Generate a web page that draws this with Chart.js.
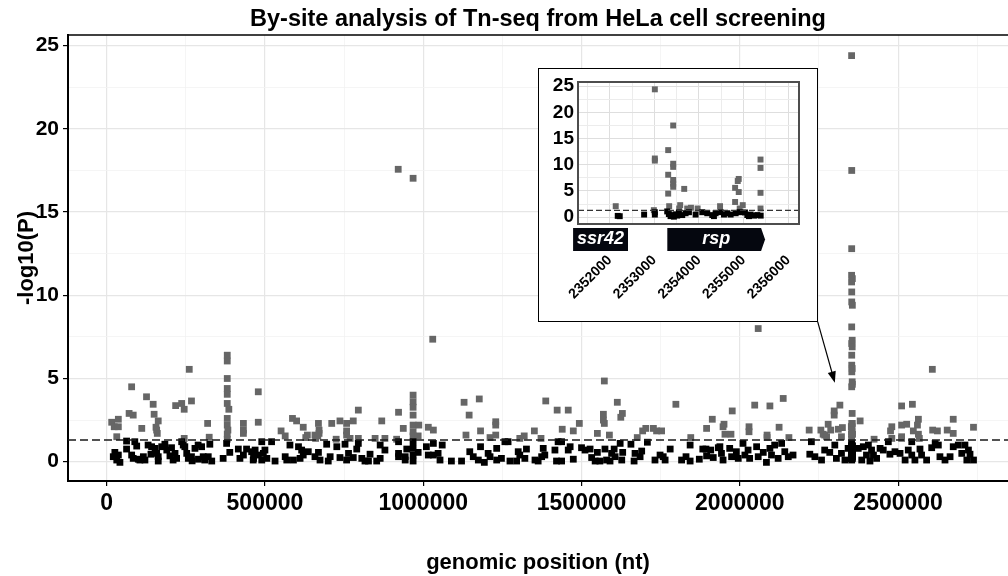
<!DOCTYPE html>
<html>
<head>
<meta charset="utf-8">
<script src="https://cdn.jsdelivr.net/npm/chart.js@4.4.1/dist/chart.umd.min.js"></script>
<style>
  html, body { margin: 0; padding: 0; background: #fff; }
  #wrap { position: relative; width: 1008px; height: 576px; overflow: hidden; }
  #mainCanvas { position: absolute; left: 0; top: 0; }
  #inset { position: absolute; background: #fff; border: 1px solid #000; box-sizing: border-box; }
  #inset canvas { display: block; }
</style>
</head>
<body>
<div id="wrap">
  <canvas id="mainCanvas" width="1008" height="576"></canvas>
  <div id="inset"><canvas id="insetCanvas"></canvas></div>
</div>
<script>
// Genome-wide insertion sites: position (nt) and -log10(P)
const siteX = [
  921000, 968000, 1030000, 381000, 381000, 261000, 2058000, 2608000,
  79000, 126000, 147000, 71000, 84000, 16000, 37000, 24000, 37000, 32000, 150000, 163000,
  156000, 158000, 160000, 111000, 218000, 237000, 245000, 268000, 245000, 319000, 324000,
  381000, 381000, 381000, 381000, 386000, 381000, 381000, 383000, 381000, 381000,
  432000, 432000, 432000, 479000, 479000, 551000, 564000, 587000, 600000, 621000, 634000,
  629000, 658000, 660000, 669000, 671000, 671000, 667000, 711000, 737000, 758000, 758000,
  758000, 779000, 795000, 795000, 725000, 769000, 848000, 869000, 879000, 922000, 937000,
  916000, 968000, 968000, 968000, 968000, 968000, 986000, 968000, 968000, 984000, 1016000,
  1032000, 1129000, 1145000, 1177000, 1135000, 1181000, 1211000, 1229000, 1229000, 1229000,
  1305000, 1319000, 1351000, 1372000, 1387000, 1423000, 1439000, 1572000, 1458000, 1474000,
  1493000, 1613000, 1569000, 1629000, 1624000, 1569000, 1572000, 1550000, 1588000, 1676000,
  1693000, 1703000, 1727000, 1737000, 1753000, 1798000, 1845000, 1895000, 1913000, 1976000,
  1950000, 1947000, 1953000, 1972000, 2029000, 2029000, 2047000, 2095000, 2137000, 2086000,
  2086000, 2124000, 2155000, 2219000, 2256000, 2263000, 2268000, 2279000, 2287000, 2274000,
  2298000, 2298000, 2316000, 2311000, 2324000, 2321000, 2380000, 2511000, 2545000, 2564000,
  2561000, 2511000, 2527000, 2480000, 2476000, 2548000, 2564000, 2511000, 2511000, 2567000,
  2609000, 2624000, 2655000, 2674000, 2674000, 2738000, 2424000, 2480000,
  63000, 89000, 95000, 63000, 26000, 37000, 21000, 32000, 42000, 79000, 84000, 105000,
  116000, 121000, 131000, 142000, 153000, 158000, 163000, 163000, 174000, 184000, 190000,
  205000, 216000, 221000, 210000, 237000, 242000, 247000, 253000, 258000, 268000, 279000,
  289000, 300000, 305000, 310000, 321000, 326000, 332000, 368000, 379000, 389000, 416000,
  421000, 432000, 442000, 458000, 463000, 100000, 270000, 290000, 140000, 200000,
  490000, 521000, 469000, 479000, 495000, 500000, 464000, 490000, 506000, 532000, 564000,
  569000, 579000, 590000, 606000, 616000, 621000, 611000, 637000, 658000, 669000, 674000,
  695000, 706000, 700000, 727000, 737000, 753000, 764000, 758000, 779000, 790000, 795000,
  806000, 816000, 827000, 832000, 853000, 864000, 864000, 879000, 922000, 922000, 922000,
  943000, 948000, 943000,
  968000, 968000, 968000, 968000, 984000, 1010000, 1016000, 1032000, 1032000, 1047000,
  1053000, 1060000, 1089000, 1121000, 1147000, 1158000, 1174000, 1181000, 1193000, 1205000,
  1211000, 1232000, 1232000, 1247000, 1258000, 1268000, 1274000, 1300000, 1305000, 1295000,
  1321000, 1326000, 1353000, 1363000, 1374000, 1379000, 1384000, 1416000, 1426000, 1421000,
  1437000,
  1437000, 1464000, 1458000, 1474000, 1500000, 1511000, 1527000, 1532000, 1543000, 1550000,
  1558000, 1574000, 1579000, 1590000, 1595000, 1603000, 1606000, 1622000, 1630000, 1627000,
  1656000, 1669000, 1666000, 1685000, 1690000, 1708000, 1732000, 1748000, 1758000, 1764000,
  1780000, 1816000, 1830000, 1843000, 1843000, 1872000, 1883000, 1893000, 1895000, 1908000,
  1916000, 1932000,
  1937000, 1942000, 1947000, 1968000, 1974000, 1989000, 1995000, 2010000, 2016000, 2026000,
  2031000, 2053000, 2058000, 2074000, 2084000, 2095000, 2100000, 2110000, 2121000, 2132000,
  2142000, 2153000, 2168000, 2221000, 2226000, 2237000, 2258000, 2268000, 2284000, 2300000,
  2305000, 2321000, 2332000, 2342000, 2390000, 2400000, 2416000, 2411000,
  2374000, 2385000, 2406000, 2422000, 2432000, 2443000, 2453000, 2469000, 2474000, 2490000,
  2506000, 2522000, 2532000, 2543000, 2543000, 2553000, 2569000, 2574000, 2590000, 2606000,
  2617000, 2627000, 2632000, 2648000, 2664000, 2674000, 2690000, 2701000, 2711000, 2717000,
  2727000, 2738000, 2722000
];
const siteY = [
  17.57, 17.03, 7.36, 6.4, 6.05, 5.55, 8.0, 5.55,
  4.5, 3.9, 3.45, 2.9, 2.8, 2.37, 2.55, 2.1, 2.1, 1.5, 2.85, 2.45,
  2.07, 1.9, 1.7, 2.0, 3.37, 3.5, 3.15, 3.65, 1.4, 2.3, 1.47,
  5.0, 4.4, 4.05, 3.5, 3.15, 2.6, 2.2, 1.9, 1.66, 1.35,
  2.3, 1.9, 1.7, 4.2, 2.37, 1.85, 1.55, 2.6, 2.45, 2.07, 1.6,
  1.45, 1.6, 1.4, 2.3, 1.9, 1.7, 1.55, 2.3, 2.45, 2.3, 1.85,
  1.6, 2.45, 3.1, 1.4, 1.35, 1.4, 1.4, 2.45, 1.4, 2.97, 2.0,
  1.35, 4.0, 3.6, 3.27, 2.8, 2.2, 2.2, 1.8, 1.55, 1.55, 2.07,
  1.9, 3.57, 2.8, 3.77, 1.6, 1.85, 1.45, 2.4, 2.2, 1.6,
  1.4, 1.55, 1.85, 1.4, 3.65, 3.1, 1.95, 4.85, 3.1, 1.85,
  2.3, 3.57, 2.85, 2.9, 2.67, 2.5, 2.3, 1.7, 1.6, 1.45,
  1.85, 2.0, 2.0, 1.85, 1.85, 3.45, 1.45, 2.0, 2.55, 3.05,
  2.25, 2.1, 1.65, 1.65, 2.1, 1.8, 3.4, 3.35, 3.8, 1.6,
  1.45, 2.07, 1.45, 1.9, 1.9, 1.65, 1.6, 2.25, 1.9, 1.5,
  3.05, 2.8, 3.4, 1.95, 2.05, 1.5, 2.45, 3.35, 3.45, 2.55,
  2.2, 2.2, 2.25, 2.1, 1.85, 1.85, 1.65, 1.5, 1.4, 1.4,
  1.9, 1.85, 1.9, 2.55, 1.7, 2.07, 1.35, 1.4,
  1.24, 1.2, 0.94, 0.76, 0.56, 0.4, 0.3, 0.1, -0.04, 0.4, 0.2, 0.1,
  0.3, 0.1, 1.0, 0.9, 0.8, 0.5, 0.3, 0.04, 0.9, 1.05, 0.7,
  0.84, 0.5, 0.2, 0.1, 1.2, 1.0, 0.9, 0.5, 0.2, 0.3, 0.8,
  1.0, 0.9, 0.3, 0.1, 0.3, 1.05, 0.04, 0.2, 1.1, 0.56, 0.76,
  0.2, 0.4, 0.76, 0.6, 0.1, 0.15, 0.05, 0.15, 0.45, 0.35,
  1.2, 1.2, 0.7, 0.4, 0.5, 0.7, 0.2, 0.1, 0.2, 0.04, 0.3,
  0.1, 1.0, 0.1, 0.9, 0.7, 0.4, 0.2, 0.6, 0.3, 0.56, 0.1,
  1.05, 0.3, 0.04, 0.9, 0.25, 1.05, 0.5, 0.1, 0.25, 0.76, 1.1,
  0.2, 0.04, 0.04, 0.45, 0.04, 1.0, 0.2, 0.7, 1.2, 0.5, 0.3,
  0.3, 0.76, 0.1,
  1.2, 0.8, 0.4, 0.04, 0.56, 0.9, 0.4, 1.1, 0.4, 0.5,
  0.1, 1.0, 0.04, 0.04, 0.6, 0.3, 0.1, 0.9, -0.04, 0.5,
  0.3, 0.8, 0.1, 0.2, 1.2, 1.2, 0.04, 0.6, 0.4, 0.04,
  0.2, 0.76, 0.1, 0.04, 0.3, 0.8, 0.4, 0.7, 1.2, 0.04,
  0.04,
  1.2, 0.9, 0.7, 0.15, 0.84, 0.7, 0.76, 0.25, 0.04, 0.56,
  0.04, 0.76, 0.1, 0.04, 0.5, 0.76, 0.3, 1.1, 0.56, 0.1,
  1.05, 0.5, 0.04, 0.3, 0.64, 1.17, 0.1, 0.4, 0.3, 0.1,
  0.76, 0.1, 0.3, 1.0, 0.04, 0.15, 0.76, 0.76, 0.35, 0.7,
  0.25, 0.84,
  0.9, 0.5, 0.1, 0.8, 0.3, 0.6, 0.2, 1.1, 0.4, 0.7,
  0.2, 0.9, 0.3, 0.56, -0.04, 0.8, 0.4, 1.0, 0.2, 1.1,
  0.6, 0.3, 0.4, 0.45, 1.2, 0.3, 0.1, 0.7, 0.56, 1.0,
  0.2, 0.5, 0.1, 0.8, 0.9, 0.4, 0.7, 0.04,
  0.8, 0.1, 1.0, 0.4, 0.2, 0.8, 0.7, 1.2, 0.45, 0.6,
  0.5, 0.1, 0.7, 1.2, 0.4, 0.1, 0.76, 0.4, 0.1, 0.84,
  1.1, 1.0, 0.3, 0.1, 0.3, 0.9, 1.0, 0.5, 1.0, 0.1,
  0.45, 0.1, 0.7
];

// Sites in the ssr42 / rsp locus (shown in both panels)
const rspX = [
  2352135, 2352989, 2353011, 2353011, 2353011, 2353310, 2353310, 2353310, 2353332, 2353422,
  2353422, 2353422, 2353422, 2353422, 2353422, 2353557, 2353579, 2353669, 2353736, 2353820,
  2353969, 2354472, 2354809, 2354809, 2354868, 2354890, 2354890, 2354912, 2354980, 2355378,
  2355378, 2355378, 2355378,
  2352180, 2352225, 2352771, 2353011, 2353011, 2353288, 2353325, 2353363, 2353400, 2353438,
  2353475, 2353512, 2353550, 2353625, 2353700, 2353775, 2353924, 2354073, 2354185, 2354297,
  2354335, 2354372, 2354484, 2354559, 2354634, 2354709, 2354821, 2354911, 2355030, 2355082,
  2355120, 2355157, 2355232, 2355307, 2355382
];
const rspY = [
  2.1, 1.34, 24.4, 11.2, 10.8, 12.8, 8.1, 4.5, 2.1, 17.5,
  10.2, 9.6, 7.1, 6.4, 5.8, 1.66, 2.3, 5.4, 1.66, 1.8,
  1.66, 2.1, 5.6, 2.9, 6.9, 7.3, 4.8, 1.66, 2.3, 11.0,
  9.4, 4.65, 1.66,
  0.25, 0.19, 0.5, 0.95, 0.5, 1.1, 0.6, 0.2, 0.4, 0.1,
  0.55, 0.3, 0.9, 0.4, 0.75, 0.95, 0.5, 0.95, 0.75, 0.4,
  0.2, 0.75, 0.95, 0.5, 0.75, 0.5, 0.75, 0.95, 0.9, 0.4,
  0.2, 0.5, 0.3, 0.4, 0.3
];

// Gene track of the zoomed locus
const geneNames = ['ssr42', 'rsp'];
const geneStart = [2351180, 2353290];
const geneEnd = [2352410, 2355480];
const geneStrand = [0, 1];

// Axis ticks
const mainXTicks = [0, 250000, 500000, 750000, 1000000, 1250000, 1500000, 1750000, 2000000, 2250000, 2500000, 2750000];
const mainXLabels = [0, 500000, 1000000, 1500000, 2000000, 2500000];
const mainYTicks = [0, 2.5, 5, 7.5, 10, 12.5, 15, 17.5, 20, 22.5, 25];
const mainYLabels = [0, 5, 10, 15, 20, 25];
const insetXTicks = [2351500, 2352000, 2352500, 2353000, 2353500, 2354000, 2354500, 2355000, 2355500, 2356000];
const insetXLabels = [2352000, 2353000, 2354000, 2355000, 2356000];

// Where the zoom panel sits on the genome-wide plot (data units), and its pointer
const insetBox = { xmin: 1363000, xmax: 2246000, ymin: 8.4, ymax: 23.66 };
const pointerFrom = { x: 2246000, y: 8.4 };
const pointerTo = { x: 2300000, y: 4.75 };

const SIG_LINE = -Math.log10(0.05);
const FONT = "'Liberation Sans', Arial, Helvetica, sans-serif";
const GREY = '#666666';
const BLACK = '#000000';

Chart.defaults.font.family = FONT;
Chart.defaults.color = '#000';

function toPoints(xs, ys) {
    return xs.map((x, i) => ({ x: x, y: ys[i] }));
}
const pointColor = (ctx) => (ctx.raw && ctx.raw.y > SIG_LINE) ? GREY : BLACK;

function tickSetter(values) {
    return (scale) => { scale.ticks = values.map(v => ({ value: v })); };
}
function labelIf(labels) {
    return (value) => labels.includes(value) ? String(value) : '';
}
// fixed axis size, no extra room for overhanging labels
function fixSize(prop, size) {
    return (s) => {
        s[prop] = size;
        s.paddingLeft = 0; s.paddingRight = 0;
        s.paddingTop = 0; s.paddingBottom = 0;
    };
}

// dashed significance line, top border, title and the arrow to the zoomed locus
const mainDecor = {
    id: 'mainDecor',
    afterDatasetsDraw(chart) {
        const { ctx, chartArea, scales } = chart;
        const yPos = scales.y.getPixelForValue(SIG_LINE);
        ctx.save();
        ctx.beginPath();
        ctx.setLineDash([8, 4]);
        ctx.strokeStyle = '#1a1a1a';
        ctx.lineWidth = 1.4;
        ctx.moveTo(chartArea.left, yPos);
        ctx.lineTo(chartArea.right, yPos);
        ctx.stroke();
        ctx.setLineDash([]);

        ctx.beginPath();
        ctx.strokeStyle = '#000';
        ctx.lineWidth = 1.5;
        ctx.moveTo(chartArea.left, chartArea.top);
        ctx.lineTo(chartArea.right, chartArea.top);
        ctx.stroke();

        // arrow
        const x0 = scales.x.getPixelForValue(pointerFrom.x), y0 = scales.y.getPixelForValue(pointerFrom.y);
        const x1 = scales.x.getPixelForValue(pointerTo.x), y1 = scales.y.getPixelForValue(pointerTo.y);
        const ang = Math.atan2(y1 - y0, x1 - x0);
        ctx.beginPath();
        ctx.lineWidth = 1.2;
        ctx.moveTo(x0, y0);
        ctx.lineTo(x1 - 8 * Math.cos(ang), y1 - 8 * Math.sin(ang));
        ctx.stroke();
        ctx.beginPath();
        ctx.moveTo(x1, y1);
        ctx.lineTo(x1 - 12 * Math.cos(ang - 0.35), y1 - 12 * Math.sin(ang - 0.35));
        ctx.lineTo(x1 - 12 * Math.cos(ang + 0.35), y1 - 12 * Math.sin(ang + 0.35));
        ctx.closePath();
        ctx.fillStyle = '#000';
        ctx.fill();

        ctx.font = 'bold 23.5px ' + FONT;
        ctx.textAlign = 'center';
        ctx.textBaseline = 'middle';
        ctx.fillText('By-site analysis of Tn-seq from HeLa cell screening', (chartArea.left + chartArea.right) / 2, 20);
        ctx.restore();
    }
};

const mainChart = new Chart(document.getElementById('mainCanvas'), {
    type: 'scatter',
    data: {
        datasets: [{
            data: toPoints(siteX.concat(rspX), siteY.concat(rspY)),
            pointStyle: 'rect',
            pointRadius: 4.8,
            pointBorderWidth: 0,
            pointBackgroundColor: pointColor
        }]
    },
    options: {
        responsive: false,
        animation: false,
        events: [],
        layout: { autoPadding: false, padding: { top: 35, right: 0, left: 0, bottom: 0 } },
        plugins: { legend: { display: false }, tooltip: { enabled: false } },
        scales: {
            x: {
                type: 'linear',
                min: -122000,
                max: 2847000,
                afterBuildTicks: tickSetter(mainXTicks),
                afterFit: fixSize('height', 95),
                ticks: {
                    callback: labelIf(mainXLabels),
                    autoSkip: false, maxRotation: 0, minRotation: 0,
                    padding: 4,
                    font: { size: 23, weight: 'bold' }, color: '#000'
                },
                grid: {
                    color: (c) => mainXLabels.includes(c.tick.value) ? '#e6e6e6' : '#f3f3f3',
                    lineWidth: (c) => mainXLabels.includes(c.tick.value) ? 1.2 : 0.8,
                    tickColor: (c) => mainXLabels.includes(c.tick.value) ? '#000' : 'rgba(0,0,0,0)',
                    tickLength: 5
                },
                border: { display: true, color: '#000', width: 2 },
                title: {
                    display: true, text: 'genomic position (nt)',
                    font: { size: 22, weight: 'bold' }, color: '#000',
                    padding: { top: 0, bottom: 0 }
                }
            },
            y: {
                type: 'linear',
                min: -1.16,
                max: 25.64,
                afterBuildTicks: tickSetter(mainYTicks),
                afterFit: fixSize('width', 68),
                ticks: {
                    callback: labelIf(mainYLabels),
                    autoSkip: false, padding: 4,
                    font: { size: 21, weight: 'bold' }, color: '#000'
                },
                grid: {
                    color: (c) => mainYLabels.includes(c.tick.value) ? '#e6e6e6' : '#f3f3f3',
                    lineWidth: (c) => mainYLabels.includes(c.tick.value) ? 1.2 : 0.8,
                    tickColor: (c) => mainYLabels.includes(c.tick.value) ? '#000' : 'rgba(0,0,0,0)',
                    tickLength: 5
                },
                border: { display: true, color: '#000', width: 2 },
                title: {
                    display: true, text: '-log10(P)',
                    font: { size: 22, weight: 'bold' }, color: '#000',
                    padding: { top: 14, bottom: 0 }
                }
            }
        }
    },
    plugins: [mainDecor]
});

// place the zoom panel from its data extent on the main plot
const mx = mainChart.scales.x, my = mainChart.scales.y;
const boxLeft = Math.round(mx.getPixelForValue(insetBox.xmin));
const boxRight = Math.round(mx.getPixelForValue(insetBox.xmax));
const boxTop = Math.round(my.getPixelForValue(insetBox.ymax));
const boxBottom = Math.round(my.getPixelForValue(insetBox.ymin));
const insetDiv = document.getElementById('inset');
insetDiv.style.left = boxLeft + 'px';
insetDiv.style.top = boxTop + 'px';
insetDiv.style.width = (boxRight - boxLeft) + 'px';
insetDiv.style.height = (boxBottom - boxTop) + 'px';
const insetCanvas = document.getElementById('insetCanvas');
insetCanvas.width = boxRight - boxLeft - 2;
insetCanvas.height = boxBottom - boxTop - 2;

// panel frame, significance line and gene arrows under the zoomed plot
const insetDecor = {
    id: 'insetDecor',
    afterDatasetsDraw(chart) {
        const { ctx, chartArea, scales } = chart;
        const yPos = scales.y.getPixelForValue(SIG_LINE);
        ctx.save();
        ctx.beginPath();
        ctx.setLineDash([6, 3]);
        ctx.strokeStyle = '#333';
        ctx.lineWidth = 1.2;
        ctx.moveTo(chartArea.left, yPos);
        ctx.lineTo(chartArea.right, yPos);
        ctx.stroke();
        ctx.setLineDash([]);
        ctx.strokeStyle = '#4d4d4d';
        ctx.lineWidth = 2;
        ctx.strokeRect(chartArea.left, chartArea.top, chartArea.right - chartArea.left, chartArea.bottom - chartArea.top);
        ctx.restore();
    },
    afterDraw(chart) {
        const { ctx, chartArea, scales } = chart;
        const top = chartArea.bottom + 4;
        const h = 23;
        ctx.save();
        geneNames.forEach((name, i) => {
            const x0 = scales.x.getPixelForValue(geneStart[i]);
            const x1 = scales.x.getPixelForValue(geneEnd[i]);
            const tip = geneStrand[i] > 0 ? 4 : 0;
            ctx.beginPath();
            ctx.moveTo(x0, top);
            ctx.lineTo(x1 - tip, top);
            ctx.lineTo(x1, top + h / 2);
            ctx.lineTo(x1 - tip, top + h);
            ctx.lineTo(x0, top + h);
            ctx.closePath();
            ctx.fillStyle = '#05070f';
            ctx.fill();
            ctx.fillStyle = '#fff';
            ctx.font = 'italic bold 18px ' + FONT;
            ctx.textAlign = 'center';
            ctx.textBaseline = 'middle';
            ctx.fillText(name, (x0 + x1) / 2, top + h / 2);
        });
        ctx.restore();
    }
};

new Chart(insetCanvas, {
    type: 'scatter',
    data: {
        datasets: [{
            data: toPoints(rspX, rspY),
            pointStyle: 'rect',
            pointRadius: 4.2,
            pointBorderWidth: 0,
            pointBackgroundColor: pointColor
        }]
    },
    options: {
        responsive: false,
        animation: false,
        events: [],
        layout: { autoPadding: false, padding: { top: 13, right: 18, left: 0, bottom: 0 } },
        plugins: { legend: { display: false }, tooltip: { enabled: false } },
        scales: {
            x: {
                type: 'linear',
                min: 2351290,
                max: 2356240,
                afterBuildTicks: tickSetter(insetXTicks),
                afterFit: fixSize('height', 97),
                ticks: {
                    callback: labelIf(insetXLabels),
                    autoSkip: false, maxRotation: 45, minRotation: 45,
                    padding: 28,
                    font: { size: 14, weight: 'bold' }, color: '#000'
                },
                grid: {
                    color: (c) => insetXLabels.includes(c.tick.value) ? '#dedede' : '#ececec',
                    lineWidth: 1,
                    drawTicks: false
                },
                border: { display: false }
            },
            y: {
                type: 'linear',
                min: -1.3,
                max: 25.8,
                afterBuildTicks: tickSetter(mainYTicks),
                afterFit: fixSize('width', 39),
                ticks: {
                    callback: labelIf(mainYLabels),
                    autoSkip: false, padding: 4,
                    font: { size: 19, weight: 'bold' }, color: '#000'
                },
                grid: {
                    color: (c) => mainYLabels.includes(c.tick.value) ? '#dedede' : '#ececec',
                    lineWidth: 1,
                    drawTicks: false
                },
                border: { display: false }
            }
        }
    },
    plugins: [insetDecor]
});
</script>
</body>
</html>
